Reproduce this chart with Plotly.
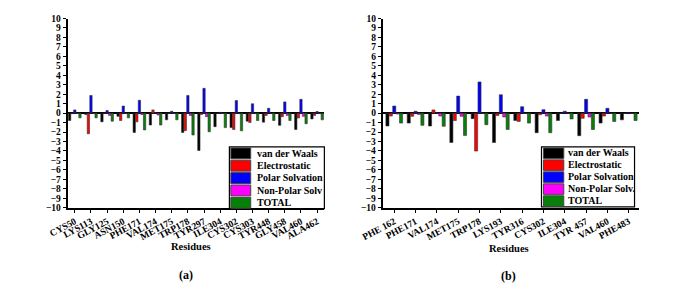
import plotly.graph_objects as go

W, H = 683, 290

# ---------------- data (a) ----------------
res_a = ["CYS50", "LYS113", "GLY125", "ASN150", "PHE171", "VAL174", "MET175", "TRP178",
         "TYR297", "ILE304", "CYS302", "CYS303", "TYR448", "GLY458", "VAL460", "ALA462"]
vdw_a = [-0.78, -0.14, -0.92, -0.34, -2.04, -1.26, -0.71, -2.04,
         -3.95, -1.43, -1.53, -0.85, -0.95, -1.29, -1.73, -0.61]
ele_a = [-0.05, -2.18, -0.03, -0.78, -0.92, 0.34, -0.03, -1.84,
         -0.14, -0.03, -1.73, -0.98, -0.24, -0.37, -0.51, -0.24]
pol_a = [0.34, 1.87, 0.27, 0.75, 1.36, 0.03, 0.20, 1.87,
         2.62, 0.08, 1.33, 0.99, 0.51, 1.19, 1.46, 0.17]
npl_a = [-0.03, -0.03, -0.24, -0.03, -0.14, -0.20, -0.03, -0.24,
         -0.37, -0.03, -0.05, -0.05, -0.05, -0.24, -0.34, -0.03]
tot_a = [-0.50, -0.50, -0.85, -0.50, -1.77, -1.26, -0.71, -2.31,
         -1.97, -1.53, -1.87, -0.78, -0.78, -0.78, -1.12, -0.71]

# ---------------- data (b) ----------------
res_b = ["PHE 162", "PHE171", "VAL174", "MET175", "TRP178", "LYS193",
         "TYR316", "CYS302", "ILE304", "TYR 457", "VAL460", "PHE483"]
vdw_b = [-1.36, -1.05, -1.36, -3.10, -0.58, -3.10, -0.78, -2.07, -0.78, -2.38, -1.05, -0.71]
ele_b = [-0.31, -0.34, 0.34, -0.78, -4.01, -0.24, -0.88, -0.17, -0.03, -0.54, -0.31, -0.03]
pol_b = [0.75, 0.20, 0.03, 1.80, 3.30, 1.94, 0.68, 0.37, 0.20, 1.46, 0.51, 0.03]
npl_b = [-0.10, -0.14, -0.31, -0.34, -0.03, -0.41, -0.03, -0.31, -0.03, -0.41, -0.03, -0.03]
tot_b = [-1.05, -1.29, -1.39, -2.35, -1.22, -1.73, -1.05, -2.07, -0.61, -1.73, -0.88, -0.78]

names_a = ["van der Waals", "Electrostatic", "Polar Solvation", "Non-Polar Solv", "TOTAL"]
names_b = ["van der Waals", "Electrostatic", "Polar Solvation", "Non-Polar Solv.", "TOTAL"]
colors = ["#000000", "#FF0000", "#0000FF", "#FF00FF", "#087F08"]

FONT = "Liberation Serif, Times New Roman, serif"

fig = go.Figure()
for nm, vals, col in zip(names_a, [vdw_a, ele_a, pol_a, npl_a, tot_a], colors):
    fig.add_trace(go.Bar(x=res_a, y=vals, name=nm, xaxis="x", yaxis="y", showlegend=False,
                         marker=dict(color=col, line=dict(color="#333333", width=0.6))))
for nm, vals, col in zip(names_b, [vdw_b, ele_b, pol_b, npl_b, tot_b], colors):
    fig.add_trace(go.Bar(x=res_b, y=vals, name=nm, xaxis="x2", yaxis="y2", showlegend=False,
                         marker=dict(color=col, line=dict(color="#333333", width=0.6))))

def px(x):
    return x / W

def py(y):
    return 1 - y / H

ydom = [py(210), py(14)]
tickfont_x = dict(family=FONT, size=9.5, color="black", weight="bold")
tickfont_y = dict(family=FONT, size=9.5, color="black", weight="bold")

common_x = dict(showline=True, linecolor="black", linewidth=1.5, ticks="outside", ticklen=3,
                tickcolor="black", tickangle=-28, tickfont=tickfont_x, showgrid=False)
common_y = dict(range=[-10, 10], dtick=1, showline=True, linecolor="black", linewidth=1.5,
                ticks="outside", ticklen=3, tickcolor="black", tickfont=tickfont_y,
                showgrid=False, zeroline=True, zerolinecolor="black", zerolinewidth=1.5)

fig.update_layout(
    width=W, height=H, margin=dict(l=0, r=0, t=0, b=0),
    paper_bgcolor="white", plot_bgcolor="white",
    barmode="group", bargap=0.2, bargroupgap=0.1,
    xaxis=dict(domain=[px(48), px(313)], anchor="y", range=[-0.45, 15.45], **common_x),
    yaxis=dict(domain=ydom, anchor="x", **common_y),
    xaxis2=dict(domain=[px(373), px(638)], anchor="y2", range=[-0.55, 11.5], **common_x),
    yaxis2=dict(domain=ydom, anchor="x2", **common_y),
)

shapes = []
annotations = []

def add_legend(x0, x1, y0, y1, sw0, sw1, tx, names):
    shapes.append(dict(type="rect", xref="paper", yref="paper", x0=px(x0), x1=px(x1),
                       y0=py(y1), y1=py(y0), fillcolor="white",
                       line=dict(color="black", width=1.2), layer="above"))
    n = len(names)
    rh = (y1 - y0) / n
    for i, (nm, col) in enumerate(zip(names, colors)):
        ry0 = y0 + i * rh + 1
        ry1 = y0 + (i + 1) * rh - 0.5
        shapes.append(dict(type="rect", xref="paper", yref="paper", x0=px(sw0), x1=px(sw1),
                           y0=py(ry1), y1=py(ry0), fillcolor=col,
                           line=dict(color="#444444", width=1), layer="above"))
        annotations.append(dict(text=nm, xref="paper", yref="paper", x=px(tx),
                                y=py(y0 + (i + 0.5) * rh), xanchor="left", yanchor="middle",
                                showarrow=False,
                                font=dict(family=FONT, size=10, color="black", weight="bold")))

add_legend(215, 313, 147, 211, 216.5, 237, 241, names_a)
add_legend(537, 633, 147, 209, 539, 560, 562, names_b)

for txt, x, y, s in [("Residues", 175, 250, 10.5), ("(a)", 170, 280, 12),
                     ("Residues", 503, 252, 10.5), ("(b)", 503, 281, 12)]:
    annotations.append(dict(text=txt, xref="paper", yref="paper", x=px(x), y=py(y),
                            xanchor="center", yanchor="middle", showarrow=False,
                            font=dict(family=FONT, size=s, color="black", weight="bold")))

fig.update_layout(shapes=shapes, annotations=annotations)
fig.write_html("out.html", config={"displayModeBar": False},
               post_script="document.body.style.margin='0';document.body.style.overflow='hidden';")
